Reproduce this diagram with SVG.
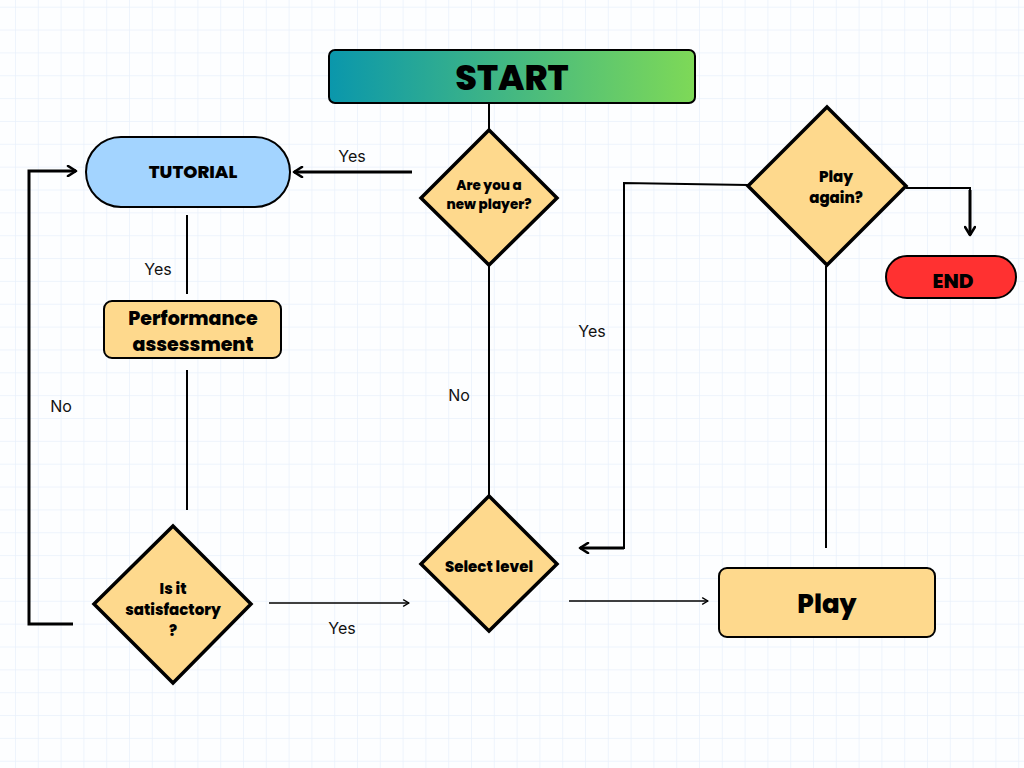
<svg xmlns="http://www.w3.org/2000/svg" width="1024" height="768" viewBox="0 0 1024 768">
<defs>
<pattern id="grid" x="15" y="6.7" width="22.8" height="22.85" patternUnits="userSpaceOnUse">
<path d="M0 0V22.85M0 0H22.8" fill="none" stroke="#e9f1fb" stroke-width="1.5"/>
</pattern>
<linearGradient id="startGrad" x1="0" y1="0" x2="1" y2="0">
<stop offset="0" stop-color="#0a97ac"/>
<stop offset="1" stop-color="#7ed957"/>
</linearGradient>
<marker id="thick" viewBox="0 0 12 12" refX="10" refY="6" markerWidth="12" markerHeight="12" markerUnits="userSpaceOnUse" orient="auto">
<path d="M2 1L10 6L2 11" fill="none" stroke="#000" stroke-width="2.6" stroke-linecap="round" stroke-linejoin="round"/>
</marker>
<marker id="thin" viewBox="0 0 10 10" refX="9" refY="5" markerWidth="9" markerHeight="9" markerUnits="userSpaceOnUse" orient="auto">
<path d="M3 1.5L9 5L3 8.5" fill="none" stroke="#000" stroke-width="1.5" stroke-linecap="round" stroke-linejoin="round"/>
</marker>
</defs>
<style>
.node{fill:#fed98d;stroke:#000;stroke-width:3.5;stroke-linejoin:miter}
.box{stroke:#000;stroke-width:2}
.t{font-family:Poppins,"Open Sans","Noto Sans",sans-serif;font-weight:800;fill:#000;text-anchor:middle}
.lbl{font-family:Inter,"Open Sans",sans-serif;font-size:16px;fill:#111;text-anchor:middle}
.c{fill:none;stroke:#000;stroke-width:2}
.ck{fill:none;stroke:#000;stroke-width:3}
.cn{fill:none;stroke:#000;stroke-width:1.5}
</style>
<rect width="1024" height="768" fill="#fdfeff"/>
<rect width="1024" height="768" fill="url(#grid)"/>

<g id="connectors">
<line class="c" x1="489" y1="103" x2="489" y2="130"/>
<line class="ck" x1="412" y1="172" x2="294" y2="172" marker-end="url(#thick)"/>
<line class="c" x1="187" y1="215" x2="187" y2="294"/>
<line class="c" x1="187" y1="370" x2="187" y2="510"/>
<polyline class="ck" points="73,624 29,624 29,171 76,171" marker-end="url(#thick)"/>
<line class="cn" x1="269" y1="603" x2="409" y2="603" marker-end="url(#thin)"/>
<line class="c" x1="489" y1="265" x2="489" y2="496"/>
<line class="cn" x1="569" y1="601" x2="708" y2="601" marker-end="url(#thin)"/>
<line class="c" x1="826" y1="548" x2="826" y2="266"/>
<polyline class="c" points="748,185 624,183 624,548 598,548"/>
<line class="ck" x1="624" y1="548" x2="580" y2="548" marker-end="url(#thick)"/>
<polyline class="c" points="906,188 970,188 970,200"/>
<line class="ck" x1="970" y1="190" x2="970" y2="235" marker-end="url(#thick)"/>
<text class="lbl" x="352" y="162">Yes</text>
<text class="lbl" x="158" y="275">Yes</text>
<text class="lbl" x="61" y="412">No</text>
<text class="lbl" x="342" y="634">Yes</text>
<text class="lbl" x="459" y="401">No</text>
<text class="lbl" x="592" y="337">Yes</text>
</g>

<g id="start">
<rect x="329" y="50" width="366" height="53" rx="6" fill="url(#startGrad)" class="box"/>
<text class="t" x="512" y="90" font-size="35">START</text>
</g>

<g id="new-player">
<polygon class="node" points="489,130 557,198 489,265 421,198"/>
<text class="t" x="489" y="190" font-size="13.5">Are you a</text>
<text class="t" x="489" y="209" font-size="13.5">new player?</text>
</g>

<g id="tutorial">
<rect x="86" y="137" width="204" height="70" rx="35" fill="#a3d4ff" class="box"/>
<text class="t" x="193" y="178" font-size="18">TUTORIAL</text>
</g>

<g id="performance">
<rect x="104" y="301" width="177" height="57" rx="8" fill="#fed98d" class="box"/>
<text class="t" x="193" y="325" font-size="19">Performance</text>
<text class="t" x="193" y="351" font-size="19">assessment</text>
</g>

<g id="satisfactory">
<polygon class="node" points="173,526 251,604 173,683 94,604"/>
<text class="t" x="173" y="594" font-size="15">Is it</text>
<text class="t" x="173" y="615" font-size="15">satisfactory</text>
<text class="t" x="173" y="636" font-size="15">?</text>
</g>

<g id="select-level">
<polygon class="node" points="489,496 557,564 489,631 421,564"/>
<text class="t" x="489" y="572" font-size="15">Select level</text>
</g>

<g id="play">
<rect x="719" y="568" width="216" height="69" rx="8" fill="#fed98d" class="box"/>
<text class="t" x="827" y="613" font-size="26">Play</text>
</g>

<g id="play-again">
<polygon class="node" points="827,107 906,186 827,265 748,186"/>
<text class="t" x="836" y="182" font-size="15">Play</text>
<text class="t" x="836" y="203" font-size="15">again?</text>
</g>

<g id="end">
<rect x="886" y="256" width="130" height="42" rx="21" fill="#ff3131" class="box"/>
<text class="t" x="953" y="288" font-size="20">END</text>
</g>
</svg>
